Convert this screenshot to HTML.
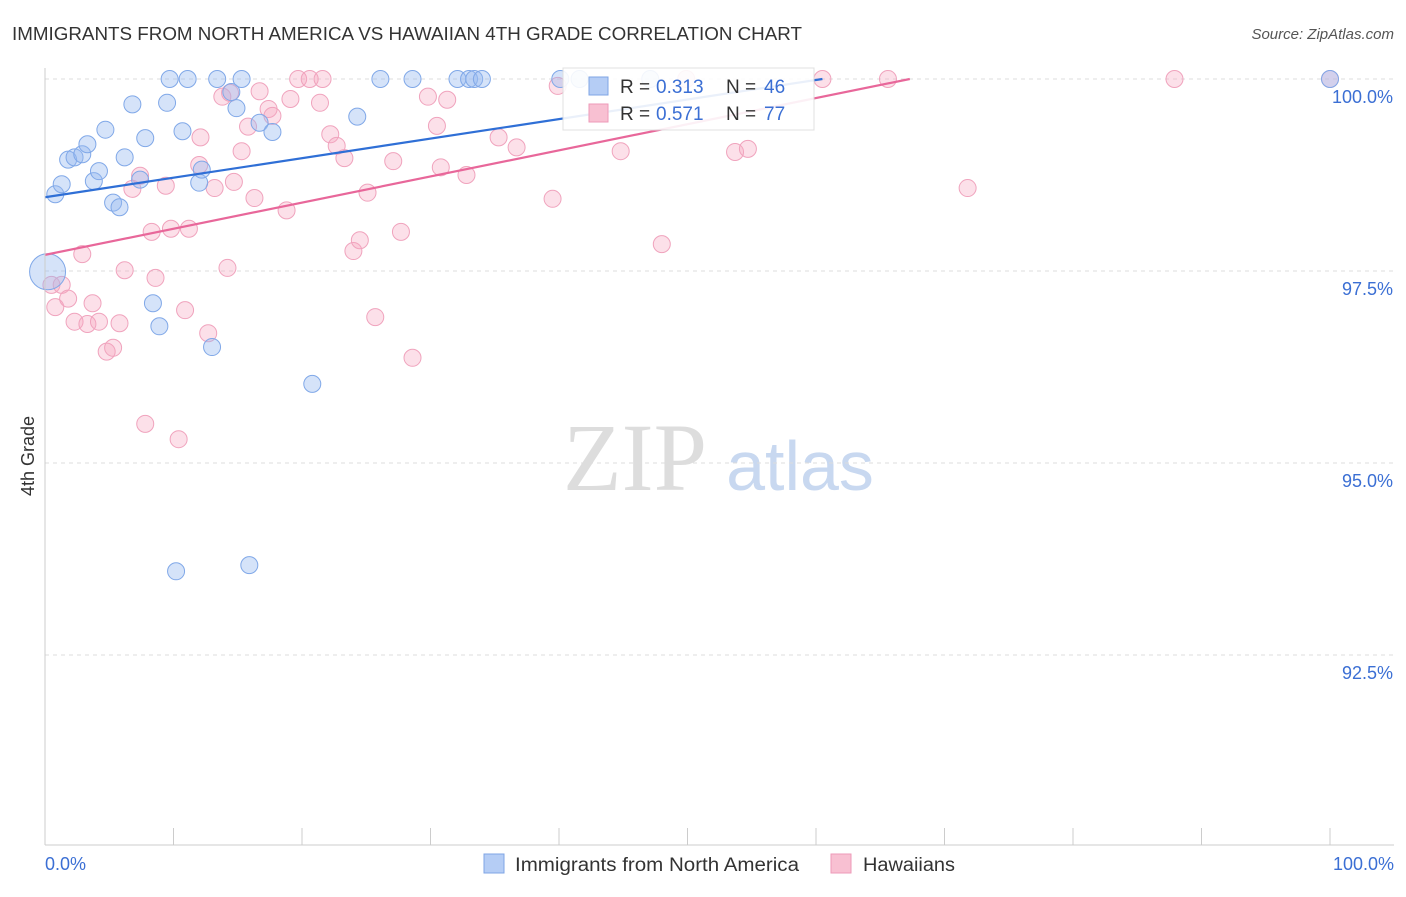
<!DOCTYPE html>
<html><head><meta charset="utf-8"><style>
body{margin:0;background:#fff;font-family:"Liberation Sans",sans-serif;}
</style></head><body>
<svg id="c" width="1406" height="892" xmlns="http://www.w3.org/2000/svg">
<text x="12" y="40" font-size="18" fill="#333" textLength="790" lengthAdjust="spacingAndGlyphs">IMMIGRANTS FROM NORTH AMERICA VS HAWAIIAN 4TH GRADE CORRELATION CHART</text>
<text x="1394" y="39" font-size="15" fill="#555" font-style="italic" text-anchor="end">Source: ZipAtlas.com</text>
<text x="34" y="456" font-size="18" fill="#333" transform="rotate(-90 34 456)" text-anchor="middle">4th Grade</text>
<text x="635" y="490" font-size="96" fill="#ddd" font-family="Liberation Serif,serif" text-anchor="middle">ZIP</text>
<text x="800" y="490" font-size="70" fill="#c8d8f0" text-anchor="middle">atlas</text>
<g id="grid"></g><g id="pts"></g><g id="lines"></g>
<line x1="45" y1="68" x2="45" y2="845" stroke="#ccc"/>
<line x1="45" y1="845" x2="1394" y2="845" stroke="#ccc"/>
<text x="45" y="870" font-size="18" fill="#3b6fd4">0.0%</text>
<text x="1394" y="870" font-size="18" fill="#3b6fd4" text-anchor="end">100.0%</text>
<g>
<rect x="563" y="68" width="251" height="62" fill="#fff" stroke="#ddd" opacity="0.9"/>
<rect x="589" y="77" width="19" height="18" fill="#b5cdf5" stroke="#7fa5e5"/>
<rect x="589" y="104" width="19" height="18" fill="#f8c0d2" stroke="#ee9ab8"/>
<text x="620" y="93" font-size="19" fill="#333">R =</text>
<text x="656" y="93" font-size="19" fill="#3b6fd4">0.313</text>
<text x="726" y="93" font-size="19" fill="#333">N =</text>
<text x="764" y="93" font-size="19" fill="#3b6fd4">46</text>
<text x="620" y="120" font-size="19" fill="#333">R =</text>
<text x="656" y="120" font-size="19" fill="#3b6fd4">0.571</text>
<text x="726" y="120" font-size="19" fill="#333">N =</text>
<text x="764" y="120" font-size="19" fill="#3b6fd4">77</text>
</g>
<g>
<rect x="484" y="854" width="20" height="19" fill="#b5cdf5" stroke="#7fa5e5"/>
<text x="515" y="871" font-size="19" fill="#333" textLength="284" lengthAdjust="spacingAndGlyphs">Immigrants from North America</text>
<rect x="831" y="854" width="20" height="19" fill="#f8c0d2" stroke="#ee9ab8"/>
<text x="863" y="871" font-size="19" fill="#333" textLength="92" lengthAdjust="spacingAndGlyphs">Hawaiians</text>
</g>
</svg>
<script>
const yTicks=[100,97.5,95,92.5];
const yTickLabels=["100.0%","97.5%","95.0%","92.5%"];
const xTicks=[0,10,20,30,40,50,60,70,80,90,100];
const blueX=[0.8,1.3,1.8,2.3,2.9,3.3,3.8,4.2,4.7,5.3,5.8,6.2,6.8,7.4,7.8,8.4,8.9,9.5,9.7,10.2,10.7,11.1,12.0,12.2,13.0,13.4,14.5,14.9,15.3,15.9,16.7,17.7,20.8,24.3,26.1,28.6,32.1,33.0,33.4,34.0,40.1,41.6,47.1,100];
const blueY=[98.50,98.63,98.95,98.98,99.02,99.15,98.67,98.80,99.34,98.39,98.33,98.98,99.67,98.69,99.23,97.08,96.78,99.69,100,93.59,99.32,100,98.65,98.82,96.51,100,99.83,99.62,100,93.67,99.43,99.31,96.03,99.51,100,100,100,100,100,100,100,100,100,100];
const bigBlue=[0.2,97.49];
const pinkX=[0.5,0.8,1.3,1.8,2.3,2.9,3.3,3.7,4.2,4.8,5.3,5.8,6.2,6.8,7.4,7.8,8.3,8.6,9.4,9.8,10.4,10.9,11.2,12.0,12.1,12.7,13.2,13.8,14.2,14.4,14.7,15.3,15.8,16.3,16.7,17.4,17.7,18.8,19.1,19.7,20.6,21.6,21.4,22.2,22.7,23.3,24.0,24.5,25.1,25.7,27.1,27.7,28.6,29.8,30.5,30.8,31.3,32.8,35.3,36.7,39.5,39.9,44.8,48.0,49.9,53.7,54.7,60.5,65.6,71.8,87.9,100];
const pinkY=[97.32,97.03,97.32,97.14,96.84,97.72,96.81,97.08,96.84,96.45,96.50,96.82,97.51,98.57,98.74,95.51,98.01,97.41,98.61,98.05,95.31,96.99,98.05,98.88,99.24,96.69,98.58,99.77,97.54,99.82,98.66,99.06,99.38,98.45,99.84,99.61,99.52,98.29,99.74,100,100,100,99.69,99.28,99.13,98.97,97.76,97.90,98.52,96.90,98.93,98.01,96.37,99.77,99.39,98.85,99.73,98.75,99.24,99.11,98.44,99.91,99.06,97.85,100,99.05,99.09,100,100,98.58,100,100];
const blueTrend=[[0,98.46],[60.5,100]];
const pinkTrend=[[0,97.71],[67.3,100]];
const NS="http://www.w3.org/2000/svg";
const X=v=>45+v*12.85, Y=v=>79+(100-v)*76.8;
function mk(t,a,p){const e=document.createElementNS(NS,t);for(const k in a)e.setAttribute(k,a[k]);document.getElementById(p).appendChild(e);return e;}
yTicks.forEach((t,i)=>{
 const l=mk('line',{x1:45,x2:1394,y1:Y(t),y2:Y(t),stroke:'#ddd','stroke-dasharray':'4 4'},'grid');
 
 
 const tx=mk('text',{x:1393,y:Y(t)+24,'font-size':18,fill:'#3b6fd4','text-anchor':'end'},'grid');
 tx.textContent=yTickLabels[i];
 
 
});
xTicks.forEach(t=>{
 const l=mk('line',{x1:X(t),x2:X(t),y1:828,y2:845,stroke:'#ccc'},'grid');
 
 
});
pinkX.forEach((x,i)=>{
 const c=mk('circle',{cx:X(x),cy:Y(pinkY[i]),r:8.5,fill:'rgba(245,165,192,0.35)',stroke:'#f0a3bd','stroke-width':1},'pts');
 
 
});
blueX.forEach((x,i)=>{
 const c=mk('circle',{cx:X(x),cy:Y(blueY[i]),r:8.5,fill:'rgba(150,185,240,0.4)',stroke:'#80a8e8','stroke-width':1},'pts');
 
 
});
const bb=mk('circle',{cx:X(bigBlue[0]),cy:Y(bigBlue[1]),r:18,fill:'rgba(150,185,240,0.4)',stroke:'#80a8e8'},'pts');


const lb=mk('line',{x1:X(blueTrend[0][0]),y1:Y(blueTrend[0][1]),x2:X(blueTrend[1][0]),y2:Y(blueTrend[1][1]),stroke:'#2f6fd6','stroke-width':2.2},'lines');


const lp=mk('line',{x1:X(pinkTrend[0][0]),y1:Y(pinkTrend[0][1]),x2:X(pinkTrend[1][0]),y2:Y(pinkTrend[1][1]),stroke:'#e8679a','stroke-width':2.2},'lines');


</script>
</body></html>
